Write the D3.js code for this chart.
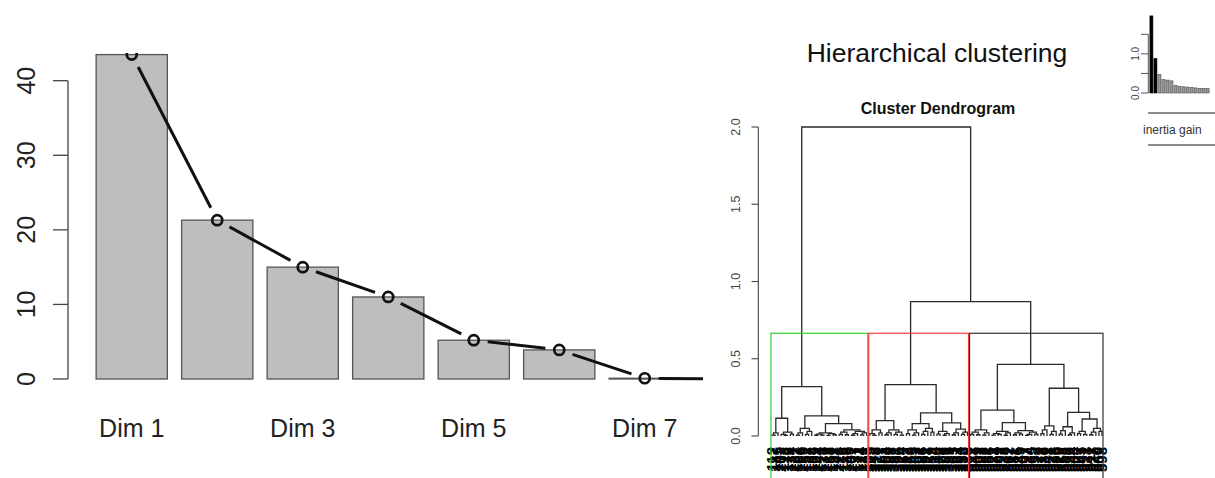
<!DOCTYPE html>
<html>
<head>
<meta charset="utf-8">
<script src="https://cdn.jsdelivr.net/npm/d3@7"></script>
<style>
body { margin: 0; background: #fff; }
svg { display: block; font-family: 'Liberation Sans', Arial, sans-serif; }
</style>
</head>
<body>
<svg></svg>
<script>
var width = 1215;
var height = 478;

// scree plot: percentage of variance per dimension
var dims = ['Dim 1', 'Dim 2', 'Dim 3', 'Dim 4', 'Dim 5', 'Dim 6', 'Dim 7', 'Dim 8'];
var percent = [43.5, 21.3, 15.0, 11.0, 5.2, 3.9, 0.1, 0.0];
var percentTicks = [0, 10, 20, 30, 40];
var dimLabels = ['Dim 1', 'Dim 3', 'Dim 5', 'Dim 7'];

// small inertia gain inset
var inertiaGain = [1.97, 0.88, 0.47, 0.34, 0.33, 0.31, 0.19, 0.17, 0.16, 0.15, 0.14, 0.13, 0.12, 0.12, 0.11];
var gainTicks = [0, 0.5, 1, 1.5];
var gainLabels = [0, 1];

// dendrogram: node = [height, left, right], leaf = label
var dendroTicks = [0, 0.5, 1, 1.5, 2];
var cutHeight = 0.665;

var greenCluster = [0.32,
	[0.115,
		[0.02, [0.006, 112, 187], 145],
		[0.025, [0.01, 203, [0.004, 118, 176]], [0.012, 134, 221]]],
	[0.13,
		[0.05, [0.02, [0.006, 101, 166], 239], [0.03, [0.01, 152, 127], 198]],
		[0.08,
			[0.02, [0.012, [0.005, 109, 244], [0.006, 171, 130]], [0.015, [0.004, 213, 158], [0.008, 192, 141]]],
			[0.04,
				[0.025, [0.01, 226, 116], [0.008, 183, 149]],
				[0.03, [0.015, [0.005, 207, 137], 172], [0.02, [0.007, 124, 231], 195]]]]]];

var redCluster = [0.333,
	[0.10,
		[0.04, [0.015, 305, [0.005, 342, 318]], [0.02, 377, 351]],
		[0.04, [0.02, [0.008, 362, 309], 388], [0.025, [0.01, 331, 396], [0.006, 324, 357]]]],
	[0.15,
		[0.08,
			[0.04, [0.015, 312, 369], [0.02, [0.006, 345, 383], 301]],
			[0.05, [0.03, [0.01, 336, 392], 327], [0.025, 359, 314]]],
		[0.085,
			[0.03, [0.012, 348, 373], [0.015, [0.005, 306, 381], 339]],
			[0.045, [0.02, [0.008, 365, 321], 394], [0.025, [0.01, 353, 310], 386]]]]];

var blackCluster = [0.464,
	[0.168,
		[0.04, [0.025, [0.01, 512, 547], [0.008, 569, 503]], [0.02, [0.006, 588, 531], 556]],
		[0.086,
			[0.03, [0.015, [0.006, 521, 574], [0.01, 509, 593]], [0.02, [0.005, 538, 562], 517]],
			[0.035, [0.02, [0.008, 581, 526], [0.012, 549, 507]], [0.025, [0.01, [0.004, 597, 534], 565], [0.012, 552, 579]]]]],
	[0.309,
		[0.065, [0.04, [0.015, 513, 586], 542], [0.03, [0.01, 571, 528], 595]],
		[0.153,
			[0.06, [0.035, [0.012, 519, 558], 583], [0.02, [0.008, 536, 544], 504]],
			[0.11,
				[0.03, [0.015, 567, 545], [0.01, 591, 523]],
				[0.05, [0.025, [0.008, 511, 577], 540], [0.03, 559, 598]]]]]];

var tree = [2.0, greenCluster, [0.87, redCluster, blackCluster]];
var clusters = [greenCluster, redCluster, blackCluster];
var clusterColors = ['#2fd12f', '#ff3a3a', '#333'];

var svg = d3.select('svg')
			.attr('width', width)
			.attr('height', height);

svg.append('rect')
	.attr('width', width)
	.attr('height', height)
	.attr('fill', '#fff');

drawScree();
drawDendrogram();
drawInset();

function drawScree() {
	var x = d3.scaleBand()
			  .domain(dims)
			  .range([89, 89 + 8 * 85.5])
			  .paddingInner(1 / 6)
			  .paddingOuter(1 / 12);
	var y = d3.scaleLinear()
			  .domain([0, 40])
			  .range([379, 80.7]);

	svg.append('clipPath')
		.attr('id', 'scree-clip')
	  .append('rect')
		.attr('x', 69)
		.attr('y', 53)
		.attr('width', 703 - 69)
		.attr('height', 360);

	var plot = svg.append('g')
				  .attr('clip-path', 'url(#scree-clip)');

	plot.selectAll('.bar')
		.data(percent)
		.join('rect')
		  .classed('bar', true)
		  .attr('x', (d, i) => x(dims[i]))
		  .attr('y', d => y(d))
		  .attr('width', x.bandwidth())
		  .attr('height', d => y(0) - y(d))
		  .attr('fill', '#bebebe')
		  .attr('stroke', '#555')
		  .attr('stroke-width', 1.3);

	var pts = percent.map((d, i) => [x(dims[i]) + x.bandwidth() / 2, y(d)]);
	var gap = 14;
	var segs = d3.pairs(pts).map(p => {
		var dx = p[1][0] - p[0][0], dy = p[1][1] - p[0][1];
		var len = Math.sqrt(dx * dx + dy * dy);
		var ux = dx / len, uy = dy / len;
		return [p[0][0] + ux * gap, p[0][1] + uy * gap, p[1][0] - ux * gap, p[1][1] - uy * gap];
	});

	plot.selectAll('.seg')
		.data(segs)
		.join('line')
		  .attr('x1', d => d[0]).attr('y1', d => d[1])
		  .attr('x2', d => d[2]).attr('y2', d => d[3])
		  .attr('stroke', '#111')
		  .attr('stroke-width', 3);

	plot.selectAll('.pt')
		.data(pts)
		.join('circle')
		  .attr('cx', d => d[0])
		  .attr('cy', d => d[1])
		  .attr('r', 5)
		  .attr('fill', 'none')
		  .attr('stroke', '#111')
		  .attr('stroke-width', 2.7);

	// y axis
	var axis = svg.append('g').attr('stroke', '#444').attr('stroke-width', 1.3);
	axis.append('line')
		.attr('x1', 68).attr('x2', 68)
		.attr('y1', y(0)).attr('y2', y(40));
	axis.selectAll('.tick')
		.data(percentTicks)
		.join('line')
		  .attr('x1', 53).attr('x2', 68)
		  .attr('y1', d => y(d)).attr('y2', d => y(d));

	svg.selectAll('.ytl')
		.data(percentTicks)
		.join('text')
		  .attr('transform', d => `translate(35, ${y(d)}) rotate(-90)`)
		  .attr('text-anchor', 'middle')
		  .attr('font-size', 25)
		  .attr('fill', '#222')
		  .text(d => d);

	svg.selectAll('.xtl')
		.data(dimLabels)
		.join('text')
		  .attr('x', d => x(d) + x.bandwidth() / 2)
		  .attr('y', 437)
		  .attr('text-anchor', 'middle')
		  .attr('font-size', 25)
		  .attr('fill', '#222')
		  .text(d => d);
}

function drawDendrogram() {
	var root = d3.hierarchy(tree, d => Array.isArray(d) ? d.slice(1) : null);
	var leaves = root.leaves();
	leaves.forEach((l, i) => { l.x = i; });
	root.eachAfter(n => {
		n.h = n.children ? n.data[0] : 0;
		if (n.children) n.x = (n.children[0].x + n.children[1].x) / 2;
	});

	var xs = d3.scaleLinear()
			   .domain([0, leaves.length - 1])
			   .range([772, 1102]);
	var ys = d3.scaleLinear()
			   .domain([0, 2])
			   .range([436, 127]);

	svg.append('text')
		.attr('x', 937)
		.attr('y', 62)
		.attr('text-anchor', 'middle')
		.attr('font-size', 26.5)
		.attr('fill', '#111')
		.text('Hierarchical clustering');

	svg.append('text')
		.attr('x', 938)
		.attr('y', 114)
		.attr('text-anchor', 'middle')
		.attr('font-size', 16)
		.attr('font-weight', 'bold')
		.attr('fill', '#111')
		.text('Cluster Dendrogram');

	svg.append('g')
		.selectAll('path')
		.data(root.descendants().filter(n => n.children))
		.join('path')
		  .attr('d', n => {
			  var a = n.children[0], b = n.children[1];
			  return `M${xs(a.x)},${ys(a.h)}V${ys(n.h)}H${xs(b.x)}V${ys(b.h)}`;
		  })
		  .attr('fill', 'none')
		  .attr('stroke', '#2a2a2a')
		  .attr('stroke-width', 1.3);

	svg.append('g')
		.selectAll('text')
		.data(leaves)
		.join('text')
		  .attr('transform', d => `translate(${xs(d.x)}, 447) rotate(-90)`)
		  .attr('text-anchor', 'end')
		  .attr('dy', '0.35em')
		  .attr('font-size', 15)
		  .attr('font-weight', 'bold')
		  .attr('fill', '#000')
		  .text(d => d.data);

	// cluster rectangles
	var nodes = root.descendants();
	svg.append('g')
		.selectAll('rect')
		.data(clusters)
		.join('rect')
		  .attr('x', c => xs(nodes.find(n => n.data === c).leaves()[0].x - 0.34))
		  .attr('width', c => {
			  var ls = nodes.find(n => n.data === c).leaves();
			  return xs(ls[ls.length - 1].x + 0.33) - xs(ls[0].x - 0.34);
		  })
		  .attr('y', ys(cutHeight))
		  .attr('height', 200)
		  .attr('fill', 'none')
		  .attr('stroke', (c, i) => clusterColors[i])
		  .attr('stroke-width', 1.2);

	// y axis
	var axis = svg.append('g').attr('stroke', '#444').attr('stroke-width', 1.1);
	axis.append('line')
		.attr('x1', 758.3).attr('x2', 758.3)
		.attr('y1', ys(0)).attr('y2', ys(2));
	axis.selectAll('.tick')
		.data(dendroTicks)
		.join('line')
		  .attr('x1', 751.5).attr('x2', 758.3)
		  .attr('y1', d => ys(d)).attr('y2', d => ys(d));

	svg.selectAll('.dtl')
		.data(dendroTicks)
		.join('text')
		  .attr('transform', d => `translate(740, ${ys(d)}) rotate(-90)`)
		  .attr('text-anchor', 'middle')
		  .attr('font-size', 12.5)
		  .attr('fill', '#444')
		  .text(d => d3.format('.1f')(d));
}

function drawInset() {
	var x = d3.scaleBand()
			  .domain(inertiaGain.map((d, i) => i))
			  .range([1149.5, 1149.5 + inertiaGain.length * 4])
			  .paddingInner(0.25)
			  .paddingOuter(0.1);
	var y = d3.scaleLinear()
			  .domain([0, 1.5])
			  .range([93, 34.3]);

	svg.append('g')
		.selectAll('rect')
		.data(inertiaGain)
		.join('rect')
		  .attr('x', (d, i) => x(i))
		  .attr('y', d => y(d))
		  .attr('width', x.bandwidth())
		  .attr('height', d => y(0) - y(d))
		  .attr('fill', (d, i) => i < 2 ? '#000' : '#9a9a9a')
		  .attr('stroke', (d, i) => i < 2 ? '#000' : '#444')
		  .attr('stroke-width', 0.6);

	var axis = svg.append('g').attr('stroke', '#555').attr('stroke-width', 1);
	axis.append('line')
		.attr('x1', 1148.3).attr('x2', 1148.3)
		.attr('y1', y(0)).attr('y2', y(1.5));
	axis.selectAll('.tick')
		.data(gainTicks)
		.join('line')
		  .attr('x1', 1141).attr('x2', 1148.3)
		  .attr('y1', d => y(d)).attr('y2', d => y(d));

	svg.selectAll('.gtl')
		.data(gainLabels)
		.join('text')
		  .attr('transform', d => `translate(1139, ${y(d)}) rotate(-90)`)
		  .attr('text-anchor', 'middle')
		  .attr('font-size', 10)
		  .attr('fill', '#444')
		  .text(d => d3.format('.1f')(d));

	svg.selectAll('.sep')
		.data([113, 145])
		.join('line')
		  .attr('x1', 1148).attr('x2', 1215)
		  .attr('y1', d => d).attr('y2', d => d)
		  .attr('stroke', '#666')
		  .attr('stroke-width', 1.5);

	svg.append('text')
		.attr('x', 1143)
		.attr('y', 134)
		.attr('font-size', 12)
		.attr('fill', '#333')
		.text('inertia gain');
}
</script>
</body>
</html>
